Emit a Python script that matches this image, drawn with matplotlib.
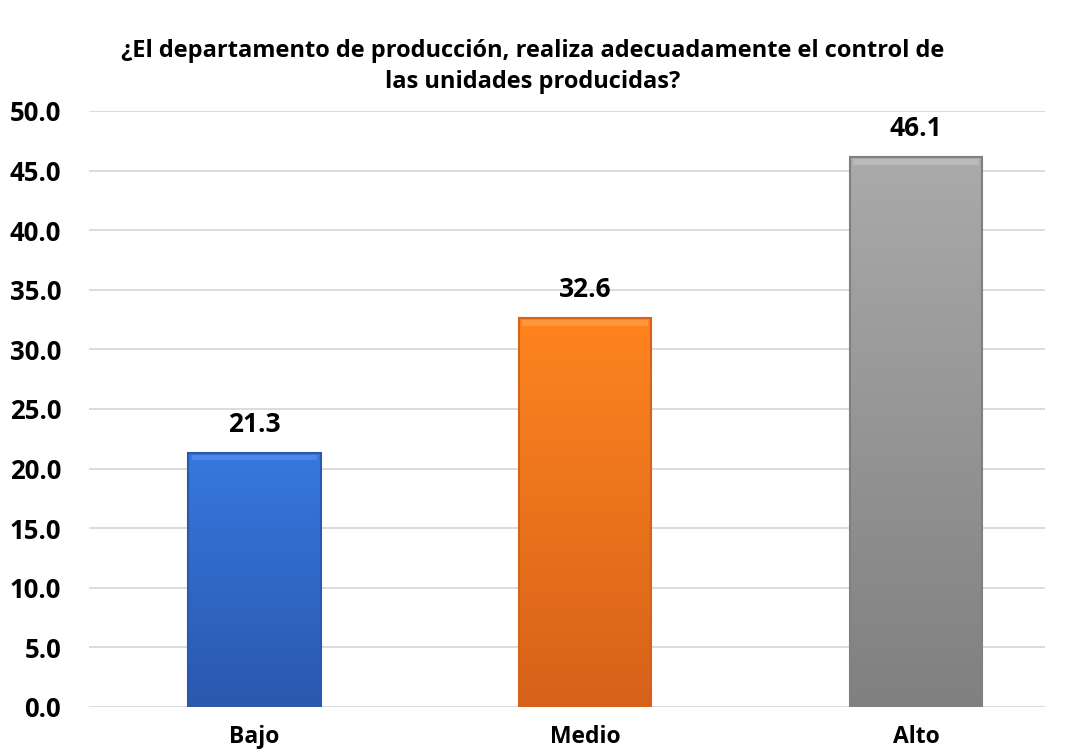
import numpy as np
import matplotlib.pyplot as plt
from matplotlib.colors import LinearSegmentedColormap

plt.rcParams['font.family'] = ['Open Sans', 'DejaVu Sans']
plt.rcParams['font.weight'] = 'bold'

categories = ['Bajo', 'Medio', 'Alto']
values = [21.3, 32.6, 46.1]
yticks = [0, 5, 10, 15, 20, 25, 30, 35, 40, 45, 50]
title = '¿El departamento de producción, realiza adecuadamente el control de\nlas unidades producidas?'

# top / bottom colours of each bar gradient
tops = ['#3778de', '#ff841f', '#aaaaaa']
bottoms = ['#2a58ae', '#d6621a', '#808080']
highlights = ['#6a9cf0', '#ffb060', '#d0d0d0']

fig = plt.figure(figsize=(10.66, 7.53), dpi=100)
ax = fig.add_axes([0.0835, 0.0611, 0.897, 0.7915])

x = np.arange(len(categories))
width = 0.4
bars = ax.bar(x, values, width=width, color='none', edgecolor='none', zorder=3)

grad = np.linspace(1, 0, 256).reshape(-1, 1)
for bar, top, bottom, hl in zip(bars, tops, bottoms, highlights):
    cmap = LinearSegmentedColormap.from_list('g', [bottom, top])
    bx, by = bar.get_x(), bar.get_y()
    bw, bh = bar.get_width(), bar.get_height()
    im = ax.imshow(grad, cmap=cmap, aspect='auto', extent=[bx, bx + bw, by, by + bh],
                   zorder=3, vmin=0, vmax=1)
    im.set_clip_path(bar)
    # soft bevel highlight along the top edge
    ax.add_patch(plt.Rectangle((bx + 0.01, by + bh - 0.6), bw - 0.02, 0.45,
                               color=hl, alpha=0.45, linewidth=0, zorder=4))
    ax.add_patch(plt.Rectangle((bx, by), bw, bh, fill=False, edgecolor=bottom,
                               linewidth=1.5, zorder=5))
    ax.text(bx + bw / 2, by + bh + 2.4, f'{bar.get_height():.1f}',
            ha='center', va='center', fontsize=19, fontweight='bold', color='#000000')

ax.set_xlim(-0.5, 2.39)
ax.set_ylim(0, 50)
ax.set_yticks(yticks)
ax.set_yticklabels([f'{t:.1f}' for t in yticks], fontsize=18.5, fontweight='bold')
ax.set_xticks(x)
ax.set_xticklabels(categories, fontsize=16.5, fontweight='bold')
ax.tick_params(axis='both', length=0, colors='#000000')
ax.tick_params(axis='y', pad=20)
ax.tick_params(axis='x', pad=13)
ax.yaxis.grid(True, color='#d9d9d9', linewidth=1.3, zorder=0)
ax.set_axisbelow(True)
for s in ax.spines.values():
    s.set_visible(False)

fig.text(0.5, 0.912, title, ha='center', va='center', fontsize=17, fontweight='bold',
         linespacing=1.36)

fig.savefig('out.png', dpi=100)
